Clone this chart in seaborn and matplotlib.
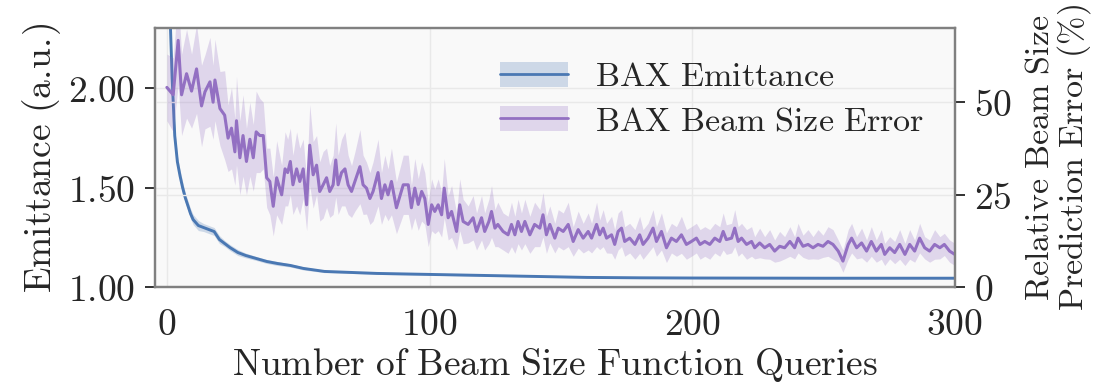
import re
import matplotlib
matplotlib.use("Agg")
import numpy as np
import pandas as pd
import seaborn as sns
import matplotlib.pyplot as plt
from matplotlib.patches import Patch
from matplotlib.lines import Line2D
from matplotlib.legend_handler import HandlerTuple
from matplotlib.ticker import FuncFormatter

# ---------------- data ----------------
emit_x = [0, 1, 2, 3, 4, 5, 6, 7, 8, 9,
          10, 12, 14, 16, 18, 20, 22, 24, 27, 30,
          34, 38, 42, 47, 52, 60, 70, 80, 100, 120,
          140, 160, 180, 200, 250, 300]
emit_y = [2.9, 2.45, 2.05, 1.76, 1.63, 1.56, 1.50, 1.45, 1.41, 1.37,
          1.34, 1.31, 1.30, 1.29, 1.28, 1.24, 1.22, 1.20, 1.175, 1.16,
          1.145, 1.13, 1.12, 1.11, 1.095, 1.08, 1.075, 1.07, 1.065, 1.06,
          1.055, 1.05, 1.048, 1.047, 1.046, 1.046]
emit_err = [0.06, 0.05, 0.04, 0.035, 0.03, 0.03, 0.03, 0.025, 0.025, 0.025,
            0.025, 0.025, 0.02, 0.02, 0.02, 0.02, 0.015, 0.015, 0.015, 0.012,
            0.01, 0.01, 0.01, 0.008, 0.008, 0.006, 0.005, 0.005, 0.004, 0.004,
            0.003, 0.003, 0.003, 0.003, 0.003, 0.003]

bs_x = [0.0, 2.4, 4.3, 5.6, 7.5, 9.4, 11.3, 13.2, 14.5, 16.4,
        17.6, 18.3, 20.2, 22.0, 23.3, 24.6, 25.9, 26.5, 27.8, 29.0,
        30.3, 31.6, 32.9, 34.0, 35.4, 36.7, 38.0, 39.2, 40.5, 41.8,
        43.7, 45.0, 46.0, 47.0, 48.0, 49.4, 50.6, 51.9, 53.2, 54.4,
        55.7, 57.0, 58.2, 59.5, 60.8, 62.0, 63.3, 64.3, 65.2, 66.5,
        67.8, 69.0, 70.3, 71.6, 73.5, 74.7, 76.0, 77.3, 78.5, 80.4,
        81.7, 83.0, 84.2, 85.5, 87.4, 90.0, 91.9, 93.1, 94.4, 95.7,
        97.0, 98.2, 99.5, 100.8, 102.0, 103.3, 104.6, 105.6, 107.1, 108.4,
        110.3, 111.5, 112.8, 114.7, 116.6, 117.9, 119.8, 121.0, 122.6, 123.6,
        124.9, 126.0, 128.0, 129.9, 131.2, 132.5, 133.7, 135.0, 136.3, 138.2,
        140.0, 142.0, 143.2, 144.5, 145.8, 147.7, 149.0, 150.9, 152.8, 154.7,
        156.6, 158.5, 160.4, 161.7, 163.6, 164.8, 166.1, 167.4, 169.3, 170.5,
        171.8, 173.1, 174.3, 176.2, 178.2, 180.0, 181.3, 183.2, 185.1, 186.4,
        188.3, 190.2, 192.1, 194.0, 195.9, 197.8, 199.7, 201.6, 203.0, 204.8,
        206.7, 208.6, 210.5, 211.8, 213.0, 215.0, 216.2, 217.5, 218.8, 220.7,
        222.6, 223.8, 225.7, 227.6, 229.5, 231.4, 233.3, 235.2, 237.2, 239.0,
        240.3, 242.2, 244.1, 246.0, 247.9, 249.8, 251.7, 253.6, 255.6, 257.4,
        259.4, 260.7, 262.6, 264.5, 266.4, 268.2, 270.1, 272.0, 273.3, 275.2,
        277.1, 279.0, 281.0, 282.8, 284.7, 286.6, 288.5, 290.4, 292.3, 294.3,
        296.0, 298.0, 300.0]
bs_y = [54, 52, 66.7, 52, 57.7, 53, 59, 49, 52.8, 55.5,
        50, 56, 48.3, 46.5, 40.3, 43, 36.6, 45, 35, 41,
        34, 40, 35, 42, 41, 41, 29.6, 28.6, 21.9, 29.6,
        25, 32, 31, 34, 27.7, 32, 28.6, 32, 22.3, 38.4,
        30.4, 33, 25.9, 27.7, 29.6, 25.9, 27.7, 34.4, 27.7, 31,
        32, 27.7, 25.9, 28.6, 32.6, 27.7, 26.8, 24, 25.9, 31,
        24, 27.7, 25, 28.6, 21.5, 27.7, 27.7, 21.5, 26.8, 22.4,
        25.9, 24, 17, 22.3, 20.5, 22.3, 19.6, 26.8, 18.8, 20.5,
        15.1, 22.3, 17.8, 17, 18.8, 15.1, 18.8, 15.1, 17.8, 20.5,
        16, 17, 15.1, 14.2, 17, 14.2, 17.8, 15.1, 17.8, 14.2,
        17, 16, 19.6, 14.2, 17, 13.3, 16, 15.1, 17, 12.4,
        15.6, 13.3, 15.1, 13.3, 17, 14.2, 16, 13.3, 14.2, 11.6,
        15.1, 16, 12.4, 13.3, 11.6, 14.2, 11.6, 13.3, 16, 12.4,
        15.1, 10.7, 13.3, 12.4, 14.2, 11.6, 12.4, 13.3, 11.6, 12.4,
        11.6, 13.3, 12.4, 15.1, 12.9, 13.3, 16, 12.4, 13.3, 11.6,
        12.4, 10.7, 12, 10.7, 11.6, 9.8, 11.1, 10.7, 12.4, 10.7,
        13.3, 11.1, 11.6, 10.7, 11.6, 11.1, 12.4, 11.6, 9.8, 7.1,
        11.6, 13.3, 10.7, 12, 9.8, 12.4, 9.8, 11.6, 8.9, 10.7,
        9.4, 11.6, 8.9, 11.6, 9.8, 13.3, 10.7, 9.8, 11.6, 10.7,
        11.6, 9.8, 8.9]
bs_err = [9, 10, 12, 11, 12, 10, 12, 11, 10, 12,
          10, 11, 10, 12, 9, 11, 9, 12, 10, 11,
          9, 10, 9, 11, 10, 9, 8, 9, 8, 10,
          8, 10, 9, 9, 8, 10, 9, 8, 7, 11,
          9, 8, 8, 9, 8, 7, 8, 10, 8, 9,
          10, 8, 7, 8, 10, 8, 7, 7, 8, 9,
          7, 8, 7, 9, 7, 8, 8, 6, 8, 7,
          8, 7, 6, 7, 6, 7, 6, 8, 6, 7,
          5, 7, 6, 5, 6, 5, 6, 5, 6, 7,
          5, 6, 5, 5, 6, 5, 6, 5, 6, 5,
          6, 5, 6, 5, 5, 4, 5, 5, 6, 4,
          5, 4, 5, 4, 6, 4, 5, 4, 5, 4,
          5, 5, 4, 4, 4, 5, 4, 4, 5, 4,
          5, 4, 4, 4, 5, 4, 4, 4, 4, 4,
          4, 4, 4, 5, 4, 4, 5, 4, 4, 4,
          4, 3, 4, 3, 4, 3, 4, 3, 4, 3,
          4, 3, 4, 3, 4, 3, 4, 4, 3, 3,
          4, 4, 3, 4, 3, 4, 3, 4, 3, 3,
          3, 4, 3, 4, 3, 4, 3, 3, 4, 3,
          3, 3, 3]

x_ticks = [0, 100, 200, 300]
left_ticks = [1.00, 1.50, 2.00]
right_ticks = [0, 25, 50]

label_emit = "BAX Emittance"
label_bs = "BAX Beam Size Error"
xlabel = "Number of Beam Size Function Queries"
ylabel_left = "Emittance (a.u.)"
ylabel_right = ["Relative Beam Size", "Prediction Error (%)"]

assert len(bs_x) == len(bs_y) == len(bs_err)
assert len(emit_x) == len(emit_y) == len(emit_err)


def band_frame(x, y, e):
    rows = []
    for xi, yi, ei in zip(x, y, e):
        for v in (yi - ei, yi, yi + ei):
            rows.append((xi, v))
    return pd.DataFrame(rows, columns=["x", "y"])


def cm(s):
    """Render a plain string in Computer Modern via mathtext."""
    s = s.replace("%", r"\%").replace(" ", r"\ ")
    # cancel the thin space mathtext adds after a period that is not a decimal point
    s = re.sub(r"\.(?!\d)", r".\\!", s)
    return r"$\mathrm{" + s + "}$"


# ---------------- style ----------------
sns.set_style("whitegrid")
plt.rcParams["font.family"] = ["DejaVu Serif"]
plt.rcParams["mathtext.fontset"] = "cm"

BLUE = "#4a78b3"
PURPLE = "#9370c2"
SPINE = "#808080"
GRID = "#e9e9e9"

fig = plt.figure(figsize=(10.95, 3.91), dpi=100)
ax = fig.add_subplot(111)
fig.subplots_adjust(left=0.1416, right=0.872, bottom=0.265, top=0.928)
ax.set_facecolor("#f9f9f9")
ax2 = ax.twinx()

df_e = band_frame(emit_x, emit_y, emit_err)
df_b = band_frame(bs_x, bs_y, bs_err)

sns.lineplot(data=df_e, x="x", y="y", estimator="mean", errorbar=("pi", 100),
             color=BLUE, linewidth=2.1, ax=ax,
             err_kws={"alpha": 0.25, "linewidth": 0})
sns.lineplot(data=df_b, x="x", y="y", estimator="mean", errorbar=("pi", 100),
             color=PURPLE, linewidth=2.2, ax=ax2,
             err_kws={"alpha": 0.25, "linewidth": 0})

ax.set_xlim(-4.5, 300)
ax.set_ylim(1.0, 2.30)
ax2.set_ylim(0, 70)

ax.set_xticks(x_ticks)
ax.xaxis.set_major_formatter(FuncFormatter(lambda v, p: cm(f"{v:.0f}")))
ax.set_yticks(left_ticks)
ax.yaxis.set_major_formatter(FuncFormatter(lambda v, p: cm(f"{v:.2f}")))
ax2.set_yticks(right_ticks)
ax2.yaxis.set_major_formatter(FuncFormatter(lambda v, p: cm(f"{v:.0f}")))

for a in (ax, ax2):
    a.grid(True, color=GRID, linewidth=1.0)
    for s in a.spines.values():
        s.set_color(SPINE)
        s.set_linewidth(1.6)
    a.tick_params(axis="both", which="major", labelsize=27, length=7,
                  width=1.3, color="#222222", direction="out", pad=7)
ax2.grid(axis="x", visible=False)

ax.set_xlabel(cm(xlabel), fontsize=27, labelpad=2)
ax.set_ylabel(cm(ylabel_left), fontsize=27, labelpad=4)
ax2.set_ylabel(cm(ylabel_right[0]) + "\n" + cm(ylabel_right[1]),
               fontsize=24.5, labelpad=8, linespacing=1.0)

handles = [
    (Patch(facecolor=BLUE, alpha=0.25, linewidth=0), Line2D([], [], color=BLUE, lw=2.0)),
    (Patch(facecolor=PURPLE, alpha=0.25, linewidth=0), Line2D([], [], color=PURPLE, lw=2.0)),
]
ax2.legend(handles, [cm(label_emit), cm(label_bs)],
           handler_map={tuple: HandlerTuple(ndivide=1)},
           loc="upper right", bbox_to_anchor=(1.0, 0.99), frameon=False,
           fontsize=24.5, handlelength=2.0, handleheight=0.75, handletextpad=0.8,
           labelspacing=0.35)

fig.savefig("out.png", dpi=100)
